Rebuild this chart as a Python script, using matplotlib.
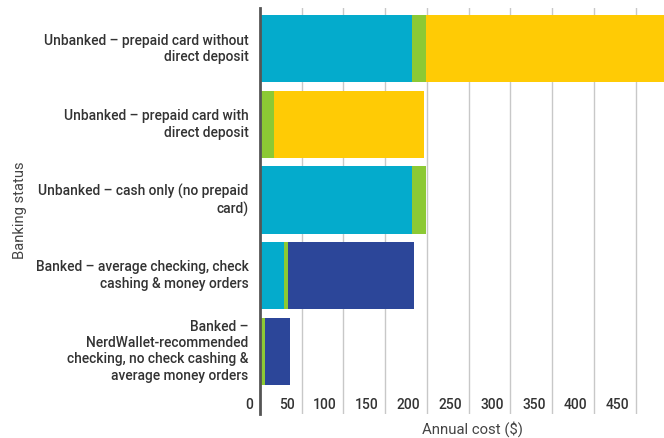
import matplotlib
matplotlib.use('Agg')
import matplotlib.pyplot as plt
import matplotlib.transforms as mtransforms

plt.rcParams['font.family'] = ['Roboto', 'DejaVu Sans']

categories = [
    'Unbanked – prepaid card without\ndirect deposit',
    'Unbanked – prepaid card with\ndirect deposit',
    'Unbanked – cash only (no prepaid\ncard)',
    'Banked – average checking, check\ncashing & money orders',
    'Banked –\nNerdWallet-recommended\nchecking, no check cashing &\naverage money orders',
]
cyan_vals = [182, 0, 182, 29, 0]
green_vals = [17, 17, 17, 5, 5.5]
yellow_vals = [300, 179, 0, 0, 0]
blue_vals = [0, 0, 0, 150, 31]
xticks = [0, 50, 100, 150, 200, 250, 300, 350, 400, 450]

colors = ['#04abcc', '#8cc934', '#ffcb05', '#2c4699']
series = [cyan_vals, green_vals, yellow_vals, blue_vals]

fig = plt.figure(figsize=(6.64, 4.38), dpi=100)
ax = fig.add_axes([0.3915, 0.0548, 0.6085, 0.927])

ypos = list(range(len(categories)))
left = [0] * len(categories)
for vals, c in zip(series, colors):
    ax.barh(ypos, vals, left=left, height=0.89, color=c, zorder=2)
    left = [l + v for l, v in zip(left, vals)]

ax.set_xlim(0, 484)
ax.set_ylim(4.83, -0.54)

for x in xticks[1:]:
    ax.axvline(x, color='#c8c8c8', lw=1, zorder=1)

for s in ['top', 'right', 'bottom']:
    ax.spines[s].set_visible(False)
ax.spines['left'].set_color('#555555')
ax.spines['left'].set_linewidth(2)
ax.spines['left'].set_zorder(3)

ax.set_xticks([])
ax.set_yticks([])

# tick labels sit inside the plot, left of each gridline
off = mtransforms.ScaledTranslation(-6.5 / 100, 0, fig.dpi_scale_trans)
trans = mtransforms.blended_transform_factory(ax.transData, ax.transAxes) + off
for x in xticks:
    ax.text(x, 0.022, str(x), transform=trans, ha='right', va='center',
            fontsize=10, color='#333333', fontweight='medium', clip_on=False)

ytrans = mtransforms.blended_transform_factory(ax.transAxes, ax.transData)
for y, lab in zip(ypos, categories):
    ax.text(-0.028, y, lab, transform=ytrans,
            ha='right', va='center', fontsize=9.9, color='#333333',
            fontweight='medium', linespacing=1.22)

fig.text(0.030, 0.52, 'Banking status', rotation=90, ha='center', va='center',
         fontsize=10.6, color='#444444')
fig.text(0.712, 0.021, 'Annual cost ($)', ha='center', va='center',
         fontsize=10.7, color='#444444')

fig.savefig('out.png', dpi=100)
